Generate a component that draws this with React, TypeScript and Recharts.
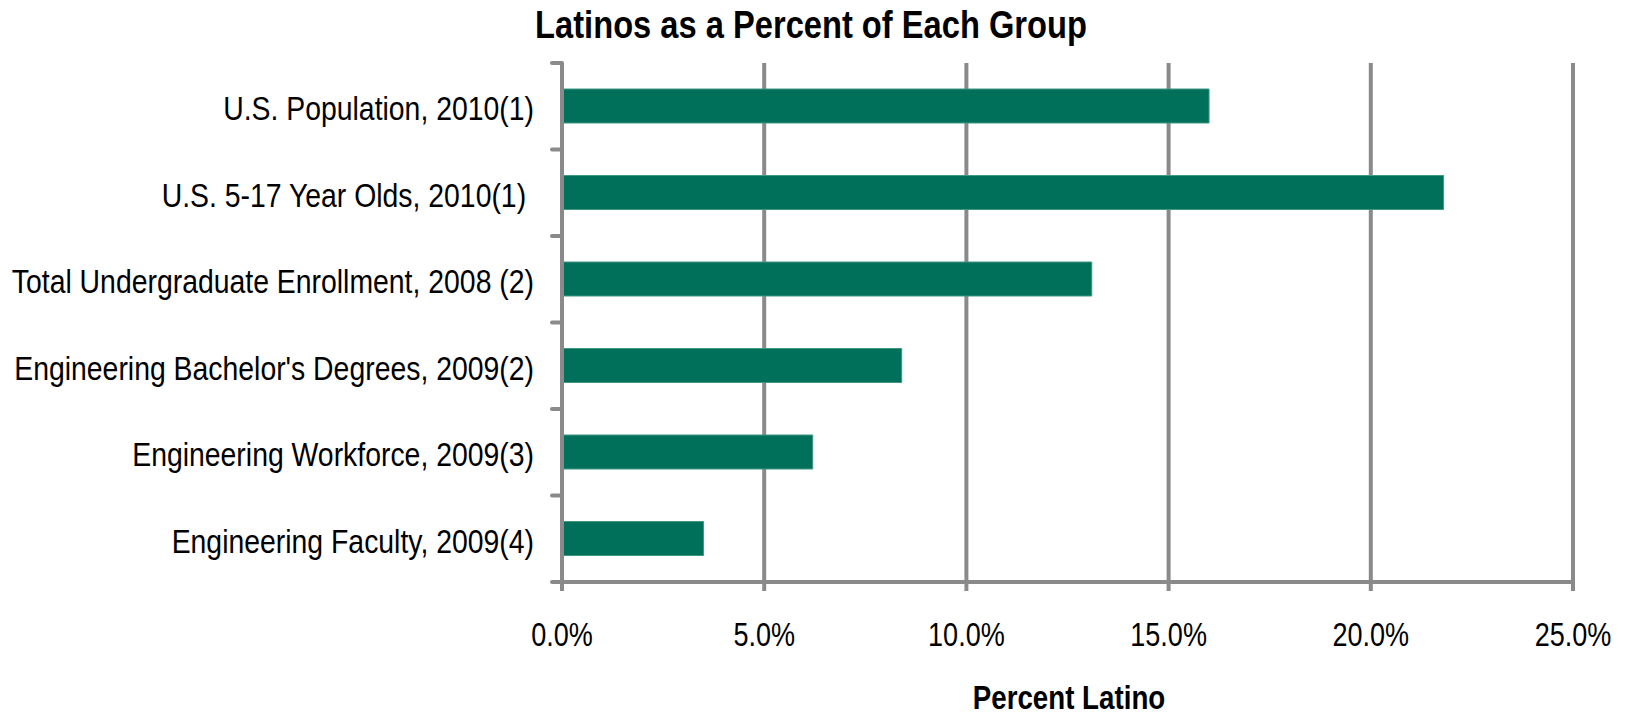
import React from 'react';
import { BarChart, Bar, XAxis, YAxis, CartesianGrid } from 'recharts';

const categories = [
  'U.S. Population, 2010(1)',
  'U.S. 5-17 Year Olds, 2010(1) ',
  'Total Undergraduate Enrollment, 2008 (2)',
  "Engineering Bachelor's Degrees, 2009(2)",
  'Engineering Workforce, 2009(3)',
  'Engineering Faculty, 2009(4)',
];
const percentLatino = [16.0, 21.8, 13.1, 8.4, 6.2, 3.5];
const xTicks = [0, 5, 10, 15, 20, 25];

const data = categories.map((name, i) => ({ name, value: percentLatino[i] }));

const FONT = "'Liberation Sans', Arial, sans-serif";
const GREY = '#8a8a8a';

const W = 1626;
const H = 714;
const TOP = 63;
const BOTTOM = 582;
const LEFT = 562;
const RIGHT = 1573;
const BAND = (BOTTOM - TOP) / categories.length;

const YTick = (props: any) => {
  const { y, payload, index } = props;
  return (
    <g>
      <line x1={LEFT - 10} x2={LEFT} y1={y - BAND / 2} y2={y - BAND / 2} stroke={GREY} strokeWidth={4} strokeLinecap="round" />
      {index === categories.length - 1 && (
        <line x1={LEFT - 10} x2={LEFT} y1={y + BAND / 2} y2={y + BAND / 2} stroke={GREY} strokeWidth={4} strokeLinecap="round" />
      )}
      <text
        transform={`translate(534, ${y + 14}) scale(0.835, 1)`}
        x={0}
        y={0}
        textAnchor="end"
        fontFamily={FONT}
        fontSize={34}
        fill="#000"
        style={{ whiteSpace: 'pre' }}
      >
        {payload.value}
      </text>
    </g>
  );
};

const XTick = (props: any) => {
  const { x, payload } = props;
  return (
    <text
      transform={`translate(${x}, ${BOTTOM + 64}) scale(0.82, 1)`}
      x={0}
      y={0}
      textAnchor="middle"
      fontFamily={FONT}
      fontSize={33}
      fill="#000"
    >
      {Number(payload.value).toFixed(1) + '%'}
    </text>
  );
};

export default function App() {
  return (
    <div style={{ position: 'absolute', left: 0, top: 0, width: W, height: H, background: '#fff' }}>
      <BarChart
        width={W}
        height={H}
        data={data}
        layout="vertical"
        margin={{ top: TOP, right: W - RIGHT, bottom: 0, left: 0 }}
        barCategoryGap={0}
      >
        <text
          transform={`translate(811, 38) scale(0.86, 1)`}
          x={0}
          y={0}
          textAnchor="middle"
          fontFamily={FONT}
          fontWeight="bold"
          fontSize={38}
          fill="#000"
        >
          Latinos as a Percent of Each Group
        </text>
        <text
          transform={`translate(1069, 709) scale(0.84, 1)`}
          x={0}
          y={0}
          textAnchor="middle"
          fontFamily={FONT}
          fontWeight="bold"
          fontSize={33}
          fill="#000"
        >
          Percent Latino
        </text>
        <CartesianGrid vertical={true} horizontal={false} stroke={GREY} strokeWidth={4} />
        <XAxis
          type="number"
          domain={[0, 25]}
          ticks={xTicks}
          height={H - BOTTOM}
          axisLine={{ stroke: GREY, strokeWidth: 4 }}
          tickLine={{ stroke: GREY, strokeWidth: 4 }}
          tickSize={9}
          tick={<XTick />}
          interval={0}
        />
        <YAxis
          type="category"
          dataKey="name"
          width={LEFT}
          axisLine={{ stroke: GREY, strokeWidth: 4 }}
          tickLine={false}
          tick={<YTick />}
          interval={0}
        />
        <Bar dataKey="value" fill="#00705A" stroke="#3f9884" strokeWidth={1} barSize={34} isAnimationActive={false} />
      </BarChart>
    </div>
  );
}
